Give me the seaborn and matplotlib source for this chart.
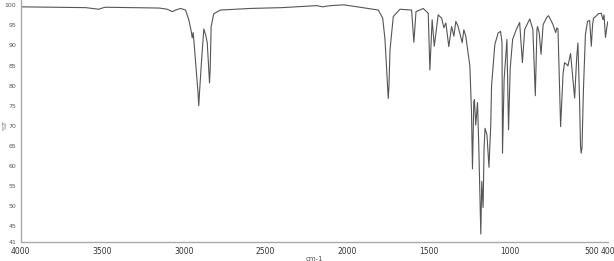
# IR spectrum (%T vs wavenumber)

import numpy as np
import pandas as pd

import matplotlib
matplotlib.use("Agg")
import matplotlib.pyplot as plt

import seaborn as sns

# wavenumber (cm-1) and transmittance (%)
wavenumber = [
    4000, 3800, 3600, 3520, 3500, 3480, 3300, 3150, 3101, 3070, 3050, 3020,
    2989, 2969, 2954, 2948, 2942, 2932, 2912, 2908, 2903, 2893, 2877, 2865,
    2856, 2845, 2842, 2838, 2832, 2816, 2775, 2592, 2400, 2184, 2150, 2100,
    2021, 1920, 1808, 1781, 1767, 1750, 1747, 1743, 1736, 1716, 1675, 1604,
    1590, 1577, 1533, 1502, 1492, 1478, 1465, 1441, 1420, 1406, 1394, 1376,
    1359, 1345, 1333, 1319, 1294, 1284, 1272, 1261, 1247, 1237, 1231, 1223,
    1219, 1211, 1200, 1192, 1180, 1174, 1166, 1160, 1154, 1142, 1130, 1119,
    1114, 1094, 1074, 1059, 1050, 1047, 1037, 1020, 1010, 1000, 985, 962,
    942, 925, 911, 880, 861, 846, 836, 832, 822, 811, 798, 777,
    765, 746, 738, 721, 714, 707, 691, 676, 667, 654, 646, 630,
    605, 593, 585, 575, 569, 565, 560, 551, 539, 526, 513, 503,
    495, 489, 471, 459, 442, 431, 425, 416, 408, 402,
]
transmittance = [
    99.6, 99.5, 99.4, 99.0, 99.3, 99.5, 99.4, 99.3, 99.0, 98.4, 98.8, 99.2,
    98.8, 96.4, 93.5, 91.9, 93.2, 88.3, 78.0, 75.0, 78.5, 84.9, 94.1, 92.5,
    90.7, 83.0, 80.7, 84.0, 94.7, 97.9, 98.8, 99.2, 99.4, 99.9, 99.6, 99.9,
    100.1, 99.5, 98.8, 96.8, 91.5, 79.0, 76.8, 79.5, 89.0, 97.2, 99.0, 98.8,
    90.8, 98.4, 99.2, 98.0, 83.9, 96.4, 89.8, 97.6, 96.8, 94.4, 95.6, 89.7,
    94.7, 92.3, 96.0, 94.7, 90.7, 93.9, 92.3, 89.0, 84.9, 73.5, 59.3, 75.9,
    76.5, 70.2, 75.8, 64.4, 43.1, 56.2, 49.7, 64.4, 69.4, 67.7, 59.7, 70.2,
    80.0, 90.2, 93.1, 93.5, 90.7, 63.2, 81.6, 91.5, 69.0, 84.2, 91.5, 94.0,
    95.7, 85.7, 94.0, 96.6, 94.0, 77.5, 94.0, 94.7, 93.1, 87.8, 95.2, 96.9,
    97.4, 95.9, 95.2, 93.2, 94.4, 94.0, 69.8, 82.9, 85.7, 85.3, 84.9, 88.0,
    76.9, 86.6, 90.6, 76.7, 64.9, 63.2, 64.5, 79.2, 92.7, 96.0, 96.2, 89.8,
    95.2, 96.8, 97.4, 97.9, 98.0, 96.4, 97.6, 92.0, 94.4, 95.9,
]

x_ticks = [4000, 3500, 3000, 2500, 2000, 1500, 1000, 500, 400]
y_ticks = [41, 45, 50, 55, 60, 65, 70, 75, 80, 85, 90, 95, 100]

df = pd.DataFrame({"wavenumber": wavenumber, "T": transmittance})

sns.set_style("white")

fig = plt.figure(figsize=(6.14, 2.61), dpi=100)
ax = fig.add_axes([0.0334, 0.071, 0.957, 0.929])

sns.lineplot(data=df, x="wavenumber", y="T", ax=ax, sort=False,
             color="#555555", linewidth=0.8)

ax.set_xlim(4000, 400)
ax.set_ylim(41, 101.3)
ax.set_xticks(x_ticks)
ax.set_xticklabels([str(t) for t in x_ticks], fontsize=5.5, color="#333333")
ax.set_yticks(y_ticks)
ax.set_yticklabels([str(t) for t in y_ticks], fontsize=4.5, color="#555555")
ax.tick_params(axis="both", length=2, width=0.6, color="#999999", pad=1)

for side in ["top", "right"]:
    ax.spines[side].set_visible(False)
for side in ["left", "bottom"]:
    ax.spines[side].set_color("#aaaaaa")
    ax.spines[side].set_linewidth(1.0)

ax.set_xlabel("cm-1", fontsize=5, color="#555555", labelpad=0)
ax.set_ylabel("")
fig.text(0.008, 0.52, "%T", fontsize=4.5, color="#555555",
         rotation=90, ha="center", va="center")

fig.savefig("out.png", dpi=100)
plt.close(fig)
